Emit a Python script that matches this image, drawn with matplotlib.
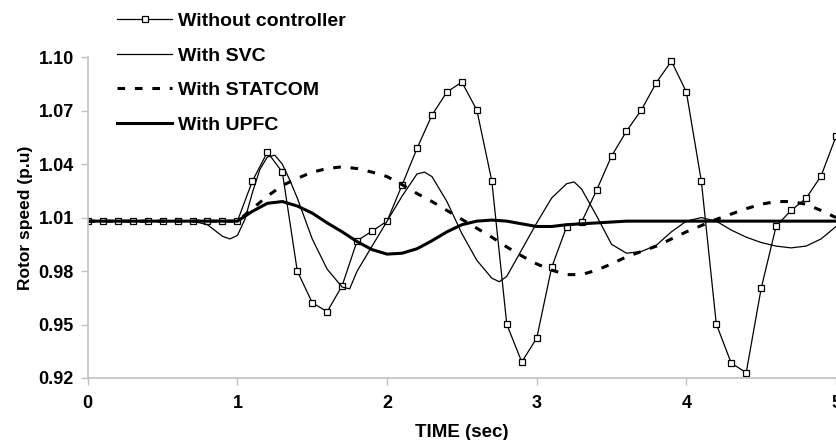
import matplotlib
matplotlib.use("Agg")
import matplotlib.pyplot as plt

plt.rcParams['font.family'] = ['Liberation Sans', 'DejaVu Sans']
plt.rcParams['font.weight'] = 'bold'

# time base (s) for the sampled curves
t = [i / 10 for i in range(51)]

without_ctrl = [
    1.008, 1.008, 1.008, 1.008, 1.008, 1.008, 1.008, 1.008, 1.008, 1.008,
    1.008, 1.0305, 1.0467, 1.0355, 0.980, 0.9622, 0.9572, 0.9718, 0.997, 1.0024,
    1.008, 1.0282, 1.0488, 1.0675, 1.0805, 1.086, 1.0703, 1.0305, 0.9501, 0.929,
    0.9423, 0.9821, 1.0049, 1.0075, 1.0253, 1.0445, 1.0585, 1.0705, 1.0858, 1.0978,
    1.0805, 1.0305, 0.9503, 0.9283, 0.923, 0.9703, 1.0052, 1.014, 1.0208, 1.0333,
    1.0555]

statcom = [
    1.008, 1.008, 1.008, 1.008, 1.008, 1.008, 1.008, 1.008, 1.008, 1.008,
    1.008, 1.015, 1.022, 1.028, 1.032, 1.0355, 1.0375, 1.0385, 1.0375, 1.0355,
    1.033, 1.0285, 1.0235, 1.019, 1.014, 1.009, 1.004, 0.999, 0.9935, 0.9885,
    0.984, 0.9805, 0.978, 0.978, 0.9805, 0.984, 0.988, 0.991, 0.994, 0.998,
    1.002, 1.0055, 1.009, 1.012, 1.015, 1.0175, 1.019, 1.019, 1.0175, 1.014,
    1.010]

upfc = [
    1.008, 1.008, 1.008, 1.008, 1.008, 1.008, 1.008, 1.008, 1.008, 1.008,
    1.008, 1.0135, 1.018, 1.019, 1.0165, 1.0125, 1.007, 1.002, 0.9965, 0.992,
    0.9895, 0.990, 0.9925, 0.997, 1.002, 1.006, 1.008, 1.0086, 1.008, 1.0065,
    1.005, 1.005, 1.006, 1.0065, 1.007, 1.0075, 1.008, 1.008, 1.008, 1.008,
    1.008, 1.008, 1.008, 1.008, 1.008, 1.008, 1.008, 1.008, 1.008, 1.008,
    1.008]

t_svc = [0.0, 0.7, 0.8, 0.9, 0.95, 1.0, 1.05, 1.1, 1.15, 1.2, 1.25, 1.3, 1.35,
         1.4, 1.5, 1.6, 1.7, 1.75, 1.8, 1.9, 2.0, 2.1, 2.2, 2.25, 2.3, 2.4, 2.5,
         2.6, 2.7, 2.75, 2.8, 2.9, 3.0, 3.1, 3.2, 3.25, 3.3, 3.4, 3.5, 3.6, 3.7,
         3.8, 3.9, 4.0, 4.1, 4.2, 4.3, 4.4, 4.5, 4.6, 4.7, 4.8, 4.9, 5.0]
svc = [1.008, 1.008, 1.006, 0.9995, 0.998, 1.000, 1.009, 1.024, 1.037, 1.044,
       1.045, 1.040, 1.031, 1.021, 0.998, 0.981, 0.971, 0.970, 0.980, 0.994,
       1.008, 1.022, 1.0345, 1.0355, 1.033, 1.019, 1.001, 0.986, 0.976, 0.974,
       0.977, 0.992, 1.007, 1.021, 1.029, 1.030, 1.026, 1.011, 0.995, 0.990,
       0.991, 0.9945, 1.002, 1.008, 1.010, 1.008, 1.003, 0.999, 0.996, 0.994,
       0.993, 0.994, 0.998, 1.005]

yticks = [0.92, 0.95, 0.98, 1.01, 1.04, 1.07, 1.10]
xticks = [0, 1, 2, 3, 4, 5]

fig = plt.figure(figsize=(8.36, 4.4), dpi=100)
ax = fig.add_axes([0.105, 0.141, 0.895, 0.729])

ax.plot(t, without_ctrl, color='black', lw=0.9, marker='s', ms=4,
        mfc='white', mec='black', mew=0.9, label='Without controller')
ax.plot(t_svc, svc, color='black', lw=0.9, label='With SVC')
ax.plot(t, statcom, color='black', lw=2.2, ls=(0, (2.5, 3.2)), label='With STATCOM')
ax.plot(t, upfc, color='black', lw=2.2, label='With UPFC')

ax.set_xlim(0, 5)
ax.set_ylim(0.92, 1.10)
ax.set_xticks(xticks)
ax.set_yticks(yticks)
ax.set_yticklabels(['%.2f' % v for v in yticks])
for s in ['top', 'right']:
    ax.spines[s].set_visible(False)
for s in ['left', 'bottom']:
    ax.spines[s].set_color('#c0c0c0')
    ax.spines[s].set_linewidth(1.2)
ax.tick_params(axis='both', colors='#c0c0c0', labelcolor='black', length=5,
               width=1, labelsize=13)
ax.tick_params(axis='x', pad=7)
ax.tick_params(axis='y', pad=5)

ax.set_xlabel('TIME (sec)', fontsize=13.5, fontweight='bold', labelpad=9)
ax.set_ylabel('Rotor speed (p.u)', fontsize=12.5, fontweight='bold', labelpad=4)

fig.legend(loc='upper left', bbox_to_anchor=(0.131, 0.99), frameon=False,
           fontsize=14, handlelength=2.83, handletextpad=0.3,
           labelspacing=0.88, borderaxespad=0)

fig.savefig('out.png', dpi=100)
